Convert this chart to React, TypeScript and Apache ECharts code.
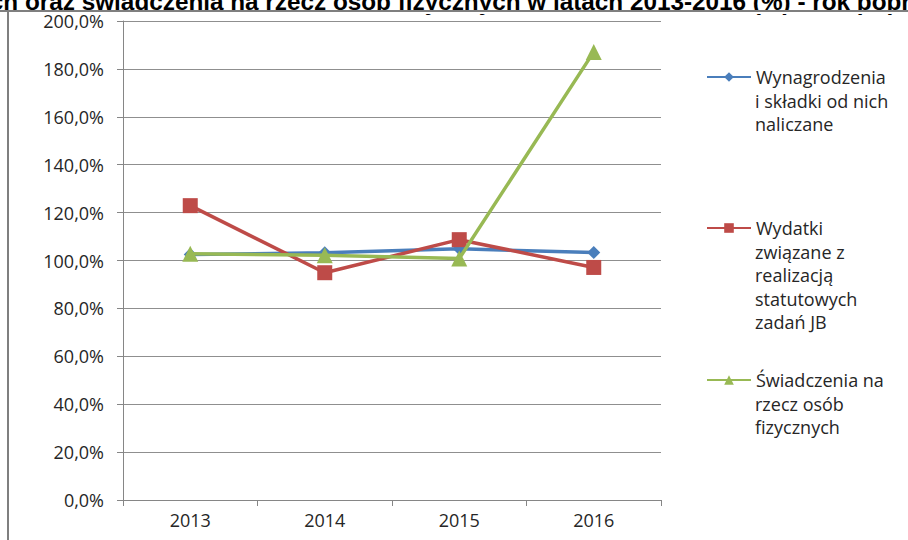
import React, { useEffect, useRef } from "react";
import * as echarts from "echarts";

const categories = ["2013", "2014", "2015", "2016"];
const wynagrodzenia = [102.5, 103.2, 104.9, 103.3];
const wydatki = [122.9, 94.9, 108.7, 97.1];
const swiadczenia = [102.8, 102.2, 100.8, 187.1];

const seriesNames = [
  "Wynagrodzenia i składki od nich naliczane",
  "Wydatki związane z realizacją statutowych zadań JB",
  "Świadczenia na rzecz osób fizycznych",
];
const legendLines = [
  ["Wynagrodzenia", "i składki od nich", "naliczane"],
  ["Wydatki", "związane z", "realizacją", "statutowych", "zadań JB"],
  ["Świadczenia na", "rzecz osób", "fizycznych"],
];
const titleHidden = "Dynamika wydatków jednostek budżetowych";
const titleVisible = "oraz świadczenia na rzecz osób fizycznych w latach 2013-2016 (%) - rok poprzedni = 100";

const colors = ["#4A7EBB", "#BE4B48", "#98B954"];
const symbols = ["diamond", "rect", "triangle"];
const symbolSizes = [13, 15, 16];
const legendFirstLineY = [77, 228, 380];

const FONT = '"Open Sans", "Noto Sans", sans-serif';
const LH = 23.5;
const LEGEND_LEFT = 706;
const LEGEND_ICON_W = 44;
const TITLE_FONT = `bold 24.3px "Liberation Sans", Arial, sans-serif`;

export default function App() {
  const ref = useRef<HTMLDivElement>(null);
  useEffect(() => {
    if (!ref.current) return;
    const chart = echarts.init(ref.current, undefined, { renderer: "svg" });
    const dataArr = [wynagrodzenia, wydatki, swiadczenia];
    const legends = seriesNames.map((name, i) => ({
      data: [name],
      left: LEGEND_LEFT,
      top: legendFirstLineY[i] - LH / 2,
      orient: "vertical",
      padding: 0,
      itemGap: 0,
      itemWidth: LEGEND_ICON_W,
      itemHeight: 12,
      formatter: () => legendLines[i][0],
      textStyle: {
        fontFamily: FONT,
        fontSize: 18,
        lineHeight: LH,
        color: "#262626",
      },
    }));
    const legendRest: any[] = [];
    legendLines.forEach((lines, i) => {
      lines.slice(1).forEach((t, k) => {
        legendRest.push({
          type: "text",
          x: LEGEND_LEFT + LEGEND_ICON_W + 5,
          y: legendFirstLineY[i] + (k + 1) * LH,
          style: {
            text: t,
            font: `18px ${FONT}`,
            fill: "#262626",
            align: "left",
            verticalAlign: "middle",
          },
        });
      });
    });
    chart.setOption({
      animation: false,
      backgroundColor: "#ffffff",
      grid: { left: 123, right: 247, top: 21, bottom: 40, containLabel: false },
      legend: legends,
      xAxis: {
        type: "category",
        data: categories,
        boundaryGap: true,
        axisLine: { lineStyle: { color: "#868686", width: 1 } },
        axisTick: { show: true, length: 6, lineStyle: { color: "#868686" } },
        axisLabel: { fontFamily: FONT, fontSize: 18, color: "#262626", margin: 11 },
      },
      yAxis: {
        type: "value",
        min: 0,
        max: 200,
        interval: 20,
        axisLine: { show: true, lineStyle: { color: "#868686", width: 1 } },
        axisTick: { show: true, length: 6, lineStyle: { color: "#868686" } },
        splitLine: { lineStyle: { color: "#8f8f8f", width: 1 } },
        axisLabel: {
          fontFamily: FONT,
          fontSize: 18,
          color: "#262626",
          margin: 19,
          formatter: (v: number) => v.toFixed(1).replace(".", ",") + "%",
        },
      },
      series: seriesNames.map((name, i) => ({
        name,
        type: "line",
        data: dataArr[i],
        symbol: symbols[i],
        symbolSize: symbolSizes[i],
        lineStyle: { color: colors[i], width: 3.5 },
        itemStyle: { color: colors[i] },
        z: 2 + i,
      })),
      graphic: [
        {
          type: "text",
          x: 18.2,
          y: 13.2,
          style: {
            text: titleHidden,
            font: TITLE_FONT,
            fill: "#000",
            align: "right",
            verticalAlign: "bottom",
          },
        },
        {
          type: "text",
          x: 25,
          y: 13.2,
          style: {
            text: titleVisible,
            font: TITLE_FONT,
            fill: "#000",
            align: "left",
            verticalAlign: "bottom",
          },
        },
        {
          type: "rect",
          shape: { x: 0, y: 11, width: 908, height: 3 },
          style: { fill: "#ffffff" },
          z: 9,
        },
        {
          type: "line",
          shape: { x1: 0, y1: 11, x2: 908, y2: 11 },
          style: { stroke: "#7f7f7f", lineWidth: 2 },
          z: 10,
        },
        {
          type: "line",
          shape: { x1: 8, y1: 11, x2: 8, y2: 540 },
          style: { stroke: "#7f7f7f", lineWidth: 2 },
          z: 10,
        },
        {
          type: "rect",
          shape: { x: 0, y: 12, width: 7, height: 528 },
          style: { fill: "#ffffff" },
          z: 9,
        },
        ...legendRest,
      ],
    });
    return () => chart.dispose();
  }, []);
  return (
    <div
      ref={ref}
      style={{ position: "fixed", left: 0, top: 0, width: 908, height: 540, background: "#fff" }}
    />
  );
}
